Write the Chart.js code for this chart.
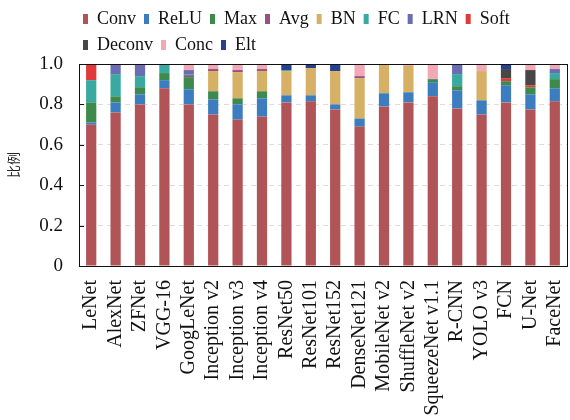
<!DOCTYPE html>
<html>
<head>
<meta charset="utf-8">
<script src="https://cdn.jsdelivr.net/npm/chart.js@4/dist/chart.umd.min.js"></script>
<style>
  html, body { margin: 0; padding: 0; background: #fff; }
  #wrap { width: 570px; height: 420px; }
</style>
</head>
<body>
<div id="wrap"><canvas id="c" width="570" height="420"></canvas></div>
<script>
// Network names along the x axis
const networks = ['LeNet','AlexNet','ZFNet','VGG-16','GoogLeNet','Inception v2','Inception v3','Inception v4',
  'ResNet50','ResNet101','ResNet152','DenseNet121','MobileNet v2','ShuffleNet v2','SqueezeNet v1.1',
  'R-CNN','YOLO v3','FCN','U-Net','FaceNet'];

// Share of each layer type per network
const conv   = [0.70,0.76,0.80,0.88,0.80,0.75,0.725,0.74,0.81,0.815,0.775,0.69,0.79,0.81,0.84,0.78,0.75,0.81,0.775,0.815];
const relu   = [0.01,0.05,0.05,0.04,0.075,0.075,0.075,0.09,0.035,0.03,0.025,0.04,0.065,0.05,0.07,0.09,0.07,0.085,0.075,0.065];
const maxp   = [0.10,0.03,0.035,0.035,0.06,0.04,0.03,0.035,0,0,0,0,0,0,0.015,0.02,0,0.02,0.035,0.045];
const bn     = [0,0,0,0,0,0.10,0.13,0.10,0.12,0.135,0.165,0.20,0.145,0.13,0,0,0.145,0,0,0];
const avgp   = [0,0,0,0,0.01,0.01,0.01,0.01,0,0,0,0.01,0,0,0,0,0,0,0,0];
const fc     = [0.11,0.11,0.055,0.045,0.005,0,0,0,0.005,0,0,0,0,0,0,0.06,0,0,0,0.03];
const lrn    = [0,0.05,0.06,0,0.02,0,0,0,0,0,0,0,0,0,0,0.05,0,0,0,0.02];
const soft   = [0.08,0,0,0,0,0,0,0,0,0,0,0,0,0,0,0,0,0.015,0.01,0];
const deconv = [0,0,0,0,0,0,0,0,0,0,0,0,0,0,0,0,0,0.045,0.075,0];
const conc   = [0,0,0,0,0.03,0.025,0.03,0.025,0,0,0,0.06,0,0.01,0.075,0,0.035,0,0.03,0.025];
const elt    = [0,0,0,0,0,0,0,0,0.03,0.02,0.035,0,0,0,0,0,0,0.025,0,0];

const yTicks = [0, 0.2, 0.4, 0.6, 0.8, 1.0];

// Legend reading order (stacking order differs: BN sits below Avg)
const legendOrder = ['Conv','ReLU','Max','Avg','BN','FC','LRN','Soft','Deconv','Conc','Elt'];

const series = [
  { label: 'Conv',   data: conv,   color: '#b05458' },
  { label: 'ReLU',   data: relu,   color: '#3b7dbf' },
  { label: 'Max',    data: maxp,   color: '#3d8a4c' },
  { label: 'BN',     data: bn,     color: '#d6b165' },
  { label: 'Avg',    data: avgp,   color: '#9a4f86' },
  { label: 'FC',     data: fc,     color: '#3aa9a2' },
  { label: 'LRN',    data: lrn,    color: '#6c6cb3' },
  { label: 'Soft',   data: soft,   color: '#e03a3a' },
  { label: 'Deconv', data: deconv, color: '#474747' },
  { label: 'Conc',   data: conc,   color: '#f1a9b5' },
  { label: 'Elt',    data: elt,    color: '#26418f' }
];

const SERIF = '"Liberation Serif", "Times New Roman", serif';

// Nudge the legend block to the left after layout
const legendShift = {
  id: 'legendShift',
  afterLayout(chart) {
    const lg = chart.legend;
    if (!lg) return;
    lg.left -= 4; lg.right -= 4;
  }
};

// Box around the plot plus short inward ticks on the value axis
const framePlugin = {
  id: 'frame',
  afterDatasetsDraw(chart) {
    const { ctx, chartArea: a, scales } = chart;
    ctx.save();
    ctx.strokeStyle = '#111';
    ctx.lineWidth = 1;
    ctx.setLineDash([]);
    ctx.strokeRect(Math.round(a.left) + 0.5, Math.round(a.top) + 0.5,
                   Math.round(a.right - a.left), Math.round(a.bottom - a.top));
    ctx.beginPath();
    yTicks.forEach(v => {
      const y = Math.round(scales.y.getPixelForValue(v)) + 0.5;
      ctx.moveTo(a.left, y);
      ctx.lineTo(a.left + 5, y);
    });
    ctx.stroke();
    ctx.restore();
  }
};

new Chart(document.getElementById('c'), {
  type: 'bar',
  data: {
    labels: networks,
    datasets: series.map(s => ({
      label: s.label,
      data: s.data,
      backgroundColor: s.color,
      borderWidth: 0,
      barPercentage: 0.42,
      categoryPercentage: 1.0
    }))
  },
  options: {
    responsive: false,
    animation: false,
    devicePixelRatio: 1,
    layout: { padding: { left: 0, right: 3, top: 2, bottom: 0 } },
    plugins: {
      tooltip: { enabled: false },
      legend: {
        position: 'top',
        align: 'start',
        fullSize: false,
        labels: {
          font: { family: SERIF, size: 18 },
          color: '#111',
          boxWidth: 5,
          boxHeight: 10,
          padding: 8,
          sort: (a, b) => legendOrder.indexOf(a.text) - legendOrder.indexOf(b.text)
        }
      }
    },
    scales: {
      x: {
        stacked: true,
        grid: { display: false, drawTicks: false },
        border: { display: true, color: '#111' },
        ticks: {
          autoSkip: false,
          minRotation: 90,
          maxRotation: 90,
          padding: 14,
          color: '#111',
          font: { family: SERIF, size: 20 }
        },
        afterFit(scale) {
          scale.height = 154;
          scale.paddingLeft = 0;
          scale.paddingRight = 0;
        }
      },
      y: {
        stacked: true,
        min: 0,
        max: 1,
        afterBuildTicks(scale) { scale.ticks = yTicks.map(v => ({ value: v })); },
        grid: {
          drawTicks: false,
          color: ctx => (ctx.tick && (ctx.tick.value === 0 || ctx.tick.value === 1)) ? 'rgba(0,0,0,0)' : '#e6d9d9',
          lineWidth: 1
        },
        border: { display: true, color: '#111', dash: [5, 4] },
        ticks: {
          padding: 16,
          color: '#111',
          font: { family: SERIF, size: 19 },
          callback: v => (v === 0 ? '0' : v.toFixed(1))
        },
        title: {
          display: true,
          text: '比例',
          color: '#222',
          font: { family: '"Noto Sans CJK SC", sans-serif', size: 13 },
          padding: { top: 5, bottom: 0 }
        },
        afterFit(scale) { scale.width = 79; }
      }
    }
  },
  plugins: [legendShift, framePlugin]
});
</script>
</body>
</html>
